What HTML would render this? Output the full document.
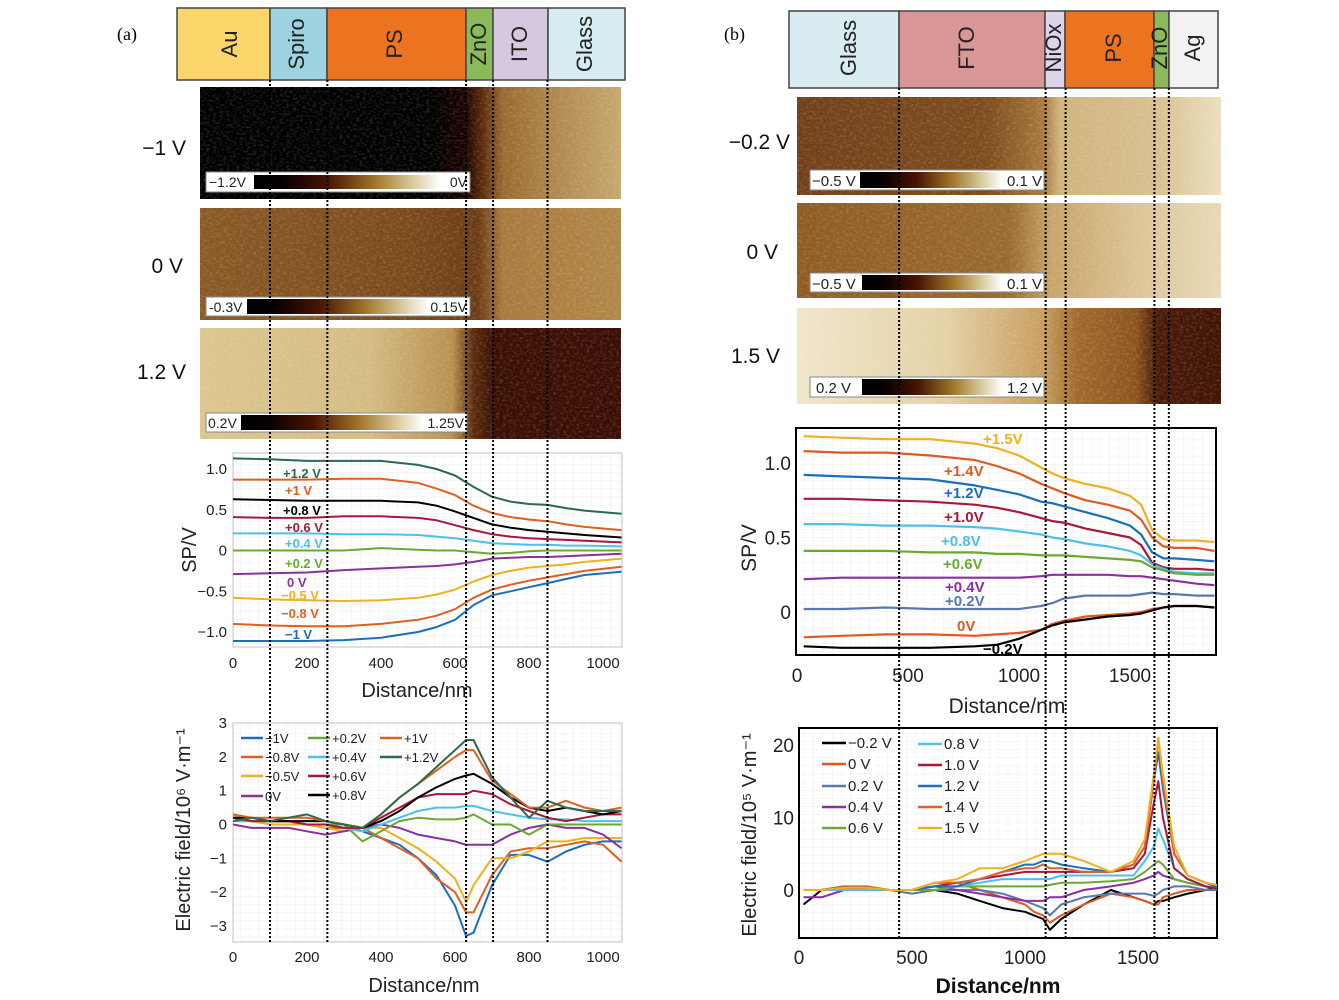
<!DOCTYPE html>
<html><head><meta charset="utf-8">
<style>
html,body{margin:0;padding:0;background:#fff;}
svg{display:block;font-family:"Liberation Sans",sans-serif;}
</style></head>
<body>
<svg id="fig" width="1339" height="1000" viewBox="0 0 1339 1000">
<defs>
<linearGradient id="cbar" x1="0" x2="1" y1="0" y2="0">
<stop offset="0" stop-color="#000"/><stop offset="0.15" stop-color="#050000"/><stop offset="0.4" stop-color="#4a1404"/><stop offset="0.65" stop-color="#a07628"/><stop offset="0.85" stop-color="#d8c89a"/><stop offset="1" stop-color="#fff"/>
</linearGradient>
<linearGradient id="imgA1" x1="0" x2="1"><stop offset="0" stop-color="#000"/><stop offset="0.55" stop-color="#000"/><stop offset="0.63" stop-color="#1a0400"/><stop offset="0.67" stop-color="#5a2a0a"/><stop offset="0.72" stop-color="#9a6a30"/><stop offset="0.85" stop-color="#b08a50"/><stop offset="1" stop-color="#c8a86e"/></linearGradient>
<linearGradient id="imgA2" x1="0" x2="1"><stop offset="0" stop-color="#8a5a26"/><stop offset="0.5" stop-color="#7a4a1c"/><stop offset="0.66" stop-color="#6a3c14"/><stop offset="0.72" stop-color="#a87a3e"/><stop offset="1" stop-color="#b08848"/></linearGradient>
<linearGradient id="imgA3" x1="0" x2="1"><stop offset="0" stop-color="#dcc690"/><stop offset="0.4" stop-color="#d4bc84"/><stop offset="0.6" stop-color="#b89050"/><stop offset="0.65" stop-color="#5a2a0e"/><stop offset="0.7" stop-color="#3a1004"/><stop offset="1" stop-color="#3a0e04"/></linearGradient>
<linearGradient id="imgB1" x1="0" x2="1"><stop offset="0" stop-color="#70401a"/><stop offset="0.45" stop-color="#7e4c1e"/><stop offset="0.58" stop-color="#a8783c"/><stop offset="0.62" stop-color="#d0b47e"/><stop offset="0.85" stop-color="#d8c090"/><stop offset="1" stop-color="#ece0c0"/></linearGradient>
<linearGradient id="imgB2" x1="0" x2="1"><stop offset="0" stop-color="#8e5c24"/><stop offset="0.5" stop-color="#9a6a2e"/><stop offset="0.6" stop-color="#c8a468"/><stop offset="0.8" stop-color="#dcc496"/><stop offset="1" stop-color="#e8dab8"/></linearGradient>
<linearGradient id="imgB3" x1="0" x2="1"><stop offset="0" stop-color="#f0e6cc"/><stop offset="0.35" stop-color="#e4d2a6"/><stop offset="0.58" stop-color="#c89e60"/><stop offset="0.66" stop-color="#a06a2c"/><stop offset="0.8" stop-color="#8a5420"/><stop offset="0.85" stop-color="#4a1a08"/><stop offset="1" stop-color="#3e1406"/></linearGradient>
<filter id="noise" x="0" y="0" width="100%" height="100%">
<feTurbulence type="fractalNoise" baseFrequency="0.3 0.45" numOctaves="2" seed="3"/>
<feColorMatrix type="matrix" values="0 0 0 0 1  0 0 0 0 0.9  0 0 0 0 0.7  1.4 0 0 0 -0.6"/>
</filter>
<pattern id="minor" width="9.25" height="8.15" patternUnits="userSpaceOnUse"><path d="M9.25 0V8.15H0" fill="none" stroke="#e6e6e6" stroke-width="0.7"/></pattern>
<clipPath id="clipA1"><rect x="233" y="453" width="389" height="194"/></clipPath>
<clipPath id="clipA2"><rect x="233" y="723" width="389" height="219"/></clipPath>
<clipPath id="clipB1"><rect x="796" y="428" width="420" height="227"/></clipPath>
<clipPath id="clipB2"><rect x="799" y="728" width="418" height="210"/></clipPath>
</defs>

<text x="117" y="40" font-family="Liberation Serif" font-size="18">(a)</text>
<text x="724" y="40" font-family="Liberation Serif" font-size="18">(b)</text>

<g stroke="#444" stroke-width="1.5">
<rect x="177" y="8" width="93" height="72" fill="#fcd66a"/>
<rect x="270" y="8" width="57" height="72" fill="#9dd2e0"/>
<rect x="327" y="8" width="139" height="72" fill="#ec7420"/>
<rect x="466" y="8" width="27" height="72" fill="#8bba5a"/>
<rect x="493" y="8" width="55" height="72" fill="#d6c8e0"/>
<rect x="548" y="8" width="77" height="72" fill="#d6ecf2"/>
</g>
<g font-size="22" fill="#222">
<text transform="translate(231,44) rotate(-90)" text-anchor="middle" dominant-baseline="middle">Au</text>
<text transform="translate(298,44) rotate(-90)" text-anchor="middle" dominant-baseline="middle">Spiro</text>
<text transform="translate(396,44) rotate(-90)" text-anchor="middle" dominant-baseline="middle">PS</text>
<text transform="translate(480,44) rotate(-90)" text-anchor="middle" dominant-baseline="middle">ZnO</text>
<text transform="translate(521,44) rotate(-90)" text-anchor="middle" dominant-baseline="middle">ITO</text>
<text transform="translate(586,44) rotate(-90)" text-anchor="middle" dominant-baseline="middle">Glass</text>
</g>

<g stroke="#444" stroke-width="1.5">
<rect x="789" y="11" width="110" height="77" fill="#d8ecf2"/>
<rect x="899" y="11" width="146" height="77" fill="#d99696"/>
<rect x="1045" y="11" width="20" height="77" fill="#dcd4e8"/>
<rect x="1065" y="11" width="89" height="77" fill="#ec7420"/>
<rect x="1154" y="11" width="15" height="77" fill="#8bba5a"/>
<rect x="1169" y="11" width="49" height="77" fill="#f2f2f2"/>
</g>
<g font-size="22" fill="#222">
<text transform="translate(850,48) rotate(-90)" text-anchor="middle" dominant-baseline="middle">Glass</text>
<text transform="translate(968,48) rotate(-90)" text-anchor="middle" dominant-baseline="middle">FTO</text>
<text transform="translate(1055,48) rotate(-90)" text-anchor="middle" dominant-baseline="middle">NiOx</text>
<text transform="translate(1115,48) rotate(-90)" text-anchor="middle" dominant-baseline="middle">PS</text>
<text transform="translate(1161,48) rotate(-90)" text-anchor="middle" dominant-baseline="middle">ZnO</text>
<text transform="translate(1194,48) rotate(-90)" text-anchor="middle" dominant-baseline="middle">Ag</text>
</g>

<rect x="200" y="87" width="421" height="112" fill="url(#imgA1)"/>
<rect x="200" y="208" width="421" height="112" fill="url(#imgA2)"/>
<rect x="200" y="328" width="421" height="111" fill="url(#imgA3)"/>
<rect x="797" y="97" width="424" height="98" fill="url(#imgB1)"/>
<rect x="797" y="203" width="424" height="95" fill="url(#imgB2)"/>
<rect x="797" y="308" width="424" height="96" fill="url(#imgB3)"/>
<g opacity="0.28">
<rect x="200" y="87" width="421" height="112" filter="url(#noise)"/>
<rect x="200" y="208" width="421" height="112" filter="url(#noise)"/>
<rect x="200" y="328" width="421" height="111" filter="url(#noise)"/>
<rect x="797" y="97" width="424" height="98" filter="url(#noise)"/>
<rect x="797" y="203" width="424" height="95" filter="url(#noise)"/>
<rect x="797" y="308" width="424" height="96" filter="url(#noise)"/>
</g>
<g font-size="21" fill="#111" text-anchor="end">
<text x="186" y="155">−1 V</text><text x="183" y="273">0 V</text><text x="186" y="379">1.2 V</text>
</g>
<g font-size="21" fill="#111" text-anchor="end">
<text x="790" y="149">−0.2 V</text><text x="778" y="259">0 V</text><text x="780" y="363">1.5 V</text>
</g>

<g font-size="14" fill="#222">
<rect x="206" y="172" width="264" height="20" fill="#fff" stroke="#888"/><rect x="254" y="175" width="186" height="14" fill="url(#cbar)"/>
<text x="209" y="187">−1.2V</text><text x="467" y="187" text-anchor="end">0V</text>
<rect x="206" y="297" width="264" height="19" fill="#fff" stroke="#888"/><rect x="247" y="299" width="182" height="15" fill="url(#cbar)"/>
<text x="209" y="312">-0.3V</text><text x="467" y="312" text-anchor="end">0.15V</text>
<rect x="206" y="413" width="261" height="19" fill="#fff" stroke="#888"/><rect x="241" y="415" width="182" height="15" fill="url(#cbar)"/>
<text x="208" y="428">0.2V</text><text x="464" y="428" text-anchor="end">1.25V</text>
<rect x="810" y="170" width="234" height="20" fill="#fff" stroke="#888"/><rect x="860" y="172" width="142" height="16" fill="url(#cbar)"/>
<text x="812" y="186" font-size="15">−0.5 V</text><text x="1042" y="186" text-anchor="end" font-size="15">0.1 V</text>
<rect x="810" y="273" width="234" height="19" fill="#fff" stroke="#888"/><rect x="862" y="275" width="140" height="15" fill="url(#cbar)"/>
<text x="812" y="289" font-size="15">−0.5 V</text><text x="1042" y="289" text-anchor="end" font-size="15">0.1 V</text>
<rect x="810" y="377" width="234" height="20" fill="#fff" stroke="#888"/><rect x="862" y="379" width="140" height="16" fill="url(#cbar)"/>
<text x="816" y="393" font-size="15">0.2 V</text><text x="1042" y="393" text-anchor="end" font-size="15">1.2 V</text>
</g>

<g id="plots"></g>
<g id="dotted"></g>
</svg>

<script>
// ---------- Panel (a) surface potential ----------
const aSpX = [0,100,200,300,400,500,550,600,650,700,750,800,850,900,950,1050];
const aSpNames = ["+1.2 V","+1 V","+0.8 V","+0.6 V","+0.4 V","+0.2 V","0 V","-0.5 V","-0.8 V","-1 V"];
const aSpP12 = [1.13,1.12,1.1,1.1,1.1,1.05,1.0,0.92,0.78,0.66,0.6,0.57,0.56,0.52,0.49,0.45];
const aSpP10 = [0.87,0.87,0.87,0.88,0.88,0.83,0.76,0.68,0.55,0.46,0.41,0.38,0.36,0.32,0.29,0.25];
const aSpP08 = [0.63,0.62,0.61,0.61,0.61,0.59,0.55,0.48,0.40,0.32,0.28,0.25,0.23,0.21,0.19,0.16];
const aSpP06 = [0.41,0.40,0.40,0.42,0.42,0.40,0.37,0.31,0.25,0.20,0.17,0.15,0.14,0.13,0.12,0.10];
const aSpP04 = [0.21,0.21,0.21,0.20,0.20,0.19,0.17,0.15,0.12,0.09,0.08,0.07,0.07,0.06,0.06,0.05];
const aSpP02 = [0,0,0,0,0.03,0.01,0,0,-0.02,-0.04,-0.03,-0.01,0,0,0,0];
const aSp0 = [-0.29,-0.28,-0.27,-0.24,-0.22,-0.20,-0.19,-0.17,-0.14,-0.10,-0.09,-0.08,-0.08,-0.07,-0.06,-0.04];
const aSpM05 = [-0.58,-0.60,-0.61,-0.62,-0.61,-0.58,-0.54,-0.48,-0.38,-0.30,-0.25,-0.21,-0.19,-0.17,-0.14,-0.10];
const aSpM08 = [-0.90,-0.92,-0.93,-0.93,-0.90,-0.85,-0.80,-0.72,-0.58,-0.48,-0.42,-0.37,-0.33,-0.29,-0.25,-0.20];
const aSpM10 = [-1.11,-1.11,-1.11,-1.10,-1.07,-1.00,-0.94,-0.85,-0.67,-0.55,-0.50,-0.45,-0.40,-0.35,-0.30,-0.26];
const aSpYTicks = [-1,-0.5,0,0.5,1];
const aSpYTickLabels = ["−1.0","−0.5","0","0.5","1.0"];
const aXTicks = [0,200,400,600,800,1000];

// ---------- Panel (a) electric field ----------
const aEX = [0,50,100,150,200,250,300,350,400,450,500,550,600,630,650,700,750,800,850,900,950,1000,1050];
const aENames = ["-1V","-0.8V","-0.5V","0V","+0.2V","+0.4V","+0.6V","+0.8V","+1V","+1.2V"];
const aEM10 = [0.3,0.1,0.1,0.1,0,-0.1,-0.1,-0.2,-0.4,-0.6,-1,-1.5,-2.4,-3.3,-3.2,-1.8,-0.9,-0.9,-1.1,-0.8,-0.6,-0.5,-0.5];
const aEM08 = [0.3,0.1,0.1,0.1,0,-0.1,-0.1,-0.1,-0.4,-0.7,-1,-1.6,-2,-2.6,-2.6,-1.5,-0.8,-0.7,-0.7,-0.6,-0.5,-0.6,-1.1];
const aEM05 = [0.3,0.1,0,0,0,-0.1,-0.2,-0.1,-0.1,-0.4,-0.7,-1.1,-1.6,-2.3,-1.8,-1,-1,-0.8,-0.5,-0.5,-0.4,-0.4,-0.4];
const aE0 = [0,-0.1,-0.1,-0.1,-0.2,-0.3,-0.2,-0.1,0,-0.1,-0.3,-0.4,-0.5,-0.6,-0.6,-0.6,-0.3,-0.1,0,-0.1,-0.1,-0.3,-0.7];
const aEP02 = [0.2,0.1,0.1,0.1,0,0,0,-0.5,-0.2,0.1,0.2,0.15,0.15,0.2,0.3,0,0,-0.3,0,0,0,0,0];
const aEP04 = [0.1,0.1,0.1,0.1,0,0,-0.1,-0.2,0,0.2,0.4,0.5,0.5,0.55,0.55,0.4,0.3,0.2,0.15,0.15,0.1,0.1,0.1];
const aEP06 = [0.2,0.1,0.1,0.1,0,0,-0.1,-0.1,0.2,0.5,0.8,0.9,0.9,0.9,1.0,0.9,0.6,0.4,0.2,0.1,0.2,0.3,0.3];
const aEP08 = [0.2,0.2,0.1,0.1,0.1,0.1,0,-0.1,0.1,0.4,0.8,1.1,1.35,1.45,1.5,1.2,0.8,0.5,0.4,0.5,0.4,0.3,0.4];
const aEP10 = [0.3,0.2,0.2,0.2,0.2,0.1,0,-0.1,0.3,0.8,1.2,1.6,2.0,2.2,2.2,1.3,0.9,0.5,0.5,0.7,0.5,0.4,0.5];
const aEP12 = [0.1,0.2,0.1,0.2,0.3,0.1,0,-0.1,0.3,0.8,1.2,1.7,2.2,2.5,2.5,1.4,0.8,0.2,0.7,0.5,0.4,0.4,0.4];
const aEYTicks = [-3,-2,-1,0,1,2,3];

// ---------- Panel (b) surface potential ----------
const bSpX = [30,200,400,600,800,900,1000,1100,1150,1200,1300,1400,1500,1550,1600,1650,1700,1800,1880];
const bSpNames = ["+1.5V","+1.4V","+1.2V","+1.0V","+0.8V","+0.6V","+0.4V","+0.2V","0V","-0.2V"];
const bSpP15 = [1.18,1.17,1.16,1.16,1.13,1.10,1.05,0.97,0.93,0.90,0.86,0.83,0.78,0.72,0.55,0.49,0.48,0.48,0.47];
const bSpP14 = [1.08,1.07,1.07,1.05,1.02,0.98,0.93,0.86,0.83,0.80,0.75,0.72,0.68,0.62,0.50,0.44,0.43,0.43,0.41];
const bSpP12 = [0.92,0.91,0.90,0.89,0.85,0.82,0.79,0.74,0.73,0.71,0.67,0.63,0.58,0.52,0.40,0.36,0.36,0.35,0.34];
const bSpP10 = [0.76,0.76,0.75,0.74,0.72,0.70,0.67,0.63,0.61,0.60,0.56,0.53,0.50,0.45,0.33,0.30,0.29,0.29,0.28];
const bSpP08 = [0.59,0.59,0.58,0.58,0.57,0.56,0.54,0.52,0.50,0.49,0.46,0.44,0.41,0.38,0.32,0.29,0.27,0.26,0.26];
const bSpP06 = [0.41,0.41,0.41,0.40,0.40,0.39,0.39,0.38,0.38,0.38,0.37,0.36,0.35,0.34,0.30,0.28,0.26,0.25,0.25];
const bSpP04 = [0.22,0.23,0.23,0.23,0.23,0.23,0.23,0.24,0.25,0.25,0.25,0.25,0.24,0.24,0.23,0.22,0.21,0.19,0.18];
const bSpP02 = [0.02,0.02,0.03,0.02,0.02,0.02,0.02,0.04,0.06,0.09,0.11,0.11,0.11,0.12,0.13,0.12,0.12,0.11,0.11];
const bSp0 = [-0.17,-0.16,-0.15,-0.15,-0.16,-0.15,-0.14,-0.12,-0.08,-0.06,-0.03,-0.02,-0.01,0,0.02,0.03,0.04,0.04,0.03];
const bSpM02 = [-0.23,-0.24,-0.24,-0.24,-0.23,-0.22,-0.18,-0.12,-0.09,-0.07,-0.05,-0.03,-0.02,-0.01,0.01,0.03,0.04,0.04,0.03];
const bSpYTicks = [0,0.5,1.0];
const bSpYTickLabels = ["0","0.5","1.0"];
const bXTicks = [0,500,1000,1500];

// ---------- Panel (b) electric field ----------
const bEX = [20,100,200,300,400,500,600,700,800,900,1000,1040,1080,1110,1160,1260,1380,1480,1530,1570,1590,1610,1660,1720,1800,1880];
const bENames = ["−0.2 V","0 V","0.2 V","0.4 V","0.6 V","0.8 V","1.0 V","1.2 V","1.4 V","1.5 V"];
const bEM02 = [-2,0,0.5,0,0,0,0,-0.5,-1.5,-2.5,-3,-3.5,-4,-5.5,-4,-2,0,-1,-1.5,-2,-1.5,-1.5,-1,-0.5,0,0.5];
const bE0 = [0,0,0.5,0.5,0,0,1,1,0,-1,-2,-3,-3.5,-4.5,-3.5,-2,-0.5,-1,-1.5,-2,-2,-1,-0.5,0,0,0];
const bEP02 = [0,0,0,0.3,0,-0.5,0,0,0,-0.5,-1.5,-2,-2.5,-3.5,-2,-1,-0.5,-0.5,-0.5,-0.8,-0.5,0,0.5,0.5,0,0];
const bEP04 = [-1,-1,0,0,0,0,0.5,0,-0.5,-1,-1.5,-1.5,-1.5,-1,-1,0,0.5,1,1.5,2,2.5,2,1.5,1,0.5,0];
const bEP06 = [0,0,0,0,0,0,0,0.5,0.5,0.5,0.5,0.5,0.5,0.7,1,1,1.2,1.5,2.5,3.5,4,3.5,1.5,1,0.5,0];
const bEP08 = [0,0,0,0,0,0,0.5,0.5,1,1.5,1.5,1.5,1.5,1.5,2,2,2,2,4,6,8.5,7,3,1.5,0.5,0];
const bEP10 = [0,0,0.3,0.3,0,0,0.5,1,1.5,2,2.5,2.5,2.5,2.5,2.5,2.5,2.5,3,5,12,15,10,3,1.5,0.5,0];
const bEP12 = [0,0,0.3,0.3,0,0,0.5,0.5,1.5,2.5,3.5,3.5,4,4,3.5,3,2.5,3.5,6,15,19,14,5,2,1,0];
const bEP14 = [0,0,0.3,0.3,0,0,1,1,1.5,2.5,3,3,3.5,3,3,2.5,2.5,3.5,6,15,21,15,5,2,1,0.5];
const bEP15 = [0,0,0.3,0.3,0,0,1,1.5,3,3,4,4.5,5,5,5,4,2.5,4,7,16,21,16,6,2,1,0.5];
const bEYTicks = [0,10,20];

// ---------- layer boundaries (nm) ----------
const aBoundaries = [100,255,630,703,850];
const bBoundaries = [460,1120,1210,1610,1675];

const NS = "http://www.w3.org/2000/svg";
const plots = document.getElementById('plots');
const dotted = document.getElementById('dotted');

function mk(tag, attrs, parent){
  const e = document.createElementNS(NS, tag);
  for (const k in attrs) e.setAttribute(k, attrs[k]);
  (parent||plots).appendChild(e);
  return e;
}
function txt(x,y,s,size,anchor,parent,fill,weight){
  const t = mk('text',{x:x,y:y,'font-size':size,'text-anchor':anchor||'middle',fill:fill||'#222','font-weight':weight||'normal'},parent);
  t.textContent = s;
  return t;
}
function axes(name, x0,y0,w,h, frame){
  const g = mk('g',{});
  
  
  mk('rect',{x:x0,y:y0,width:w,height:h,fill:'url(#minor)'},g);
  mk('rect',{x:x0,y:y0,width:w,height:h,fill:'none',stroke:frame,'stroke-width':frame=='#000'?2:1.2},g);
  return g;
}
function series(g, xs, ys, sx, sy, color, width, clip, name){
  let d = '';
  for (let i=0;i<xs.length;i++) d += (i?'L':'M') + sx(xs[i]).toFixed(1) + ' ' + sy(ys[i]).toFixed(1);
  const p = mk('path',{d:d,fill:'none',stroke:color,'stroke-width':width,'stroke-linejoin':'round','clip-path':'url(#'+clip+')'},g);
  
  
}

// ===== (a) SP =====
const sxA = v => 233 + v*0.37;
const syA1 = v => 550.5 - v*81.5;
const gA1 = axes('sp-chart-a', 233,453,389,194,'#ccc');
aSpYTicks.forEach((v,i)=>{ txt(227, syA1(v)+5, aSpYTickLabels[i], 15, 'end', gA1); });
aXTicks.forEach(v=>{ txt(sxA(v), 668, String(v), 15, 'middle', gA1); });
const aSpSeries = [aSpP12,aSpP10,aSpP08,aSpP06,aSpP04,aSpP02,aSp0,aSpM05,aSpM08,aSpM10];
const aSpColors = ['#2e6b4a','#e06020','#000','#a81838','#4ec0ee','#6aaa30','#8a30a0','#f0b020','#e06020','#1a70c0'];
const aSpLabelPos = [[283,478],[285,495],[283,515],[285,532],[285,548],[285,568],[287,587],[281,600],[281,618],[285,639]];
aSpSeries.forEach((ys,i)=>{ series(gA1, aSpX, ys, sxA, syA1, aSpColors[i], 2, 'clipA1', 'sp-a-line-'+i); });
aSpNames.forEach((n,i)=>{ txt(aSpLabelPos[i][0], aSpLabelPos[i][1], n.replace('-','−'), 13, 'start', gA1, aSpColors[i], 'bold'); });
const ta1 = txt(0,0,'SP/V',20,'middle',gA1,'#222'); ta1.setAttribute('transform','translate(196,550) rotate(-90)');
txt(417,697,'Distance/nm',20,'middle',gA1);

// ===== (a) E =====
const syA2 = v => 824.5 - v*33.8;
const gA2 = axes('efield-chart-a', 233,723,389,219,'#ccc');
aEYTicks.forEach(v=>{ txt(227, syA2(v)+5, v<0?'−'+(-v):String(v), 15, 'end', gA2); });
aXTicks.forEach(v=>{ txt(sxA(v), 962, String(v), 15, 'middle', gA2); });
const aESeries = [aEM10,aEM08,aEM05,aE0,aEP02,aEP04,aEP06,aEP08,aEP10,aEP12];
const aEColors = ['#1a70c0','#e06020','#f0b020','#8a30a0','#6aaa30','#4ec0ee','#a81838','#000','#e06020','#2e6b4a'];
aESeries.forEach((ys,i)=>{ series(gA2, aEX, ys, sxA, syA2, aEColors[i], 2, 'clipA2', 'efield-a-line-'+i); });
const aLegPos = [[241,738],[241,757],[241,776],[241,796],[308,738],[308,757],[308,776],[308,795],[380,738],[380,757]];
aENames.forEach((n,i)=>{
  const lg = mk('g',{},gA2);
  
  
  mk('line',{x1:aLegPos[i][0],x2:aLegPos[i][0]+22,y1:aLegPos[i][1],y2:aLegPos[i][1],stroke:aEColors[i],'stroke-width':2.5},lg);
  txt(aLegPos[i][0]+24, aLegPos[i][1]+5, n.replace('-','−'), 13, 'start', lg);
});
const ta2 = txt(0,0,'Electric field/10⁶ V·m⁻¹',20,'middle',gA2); ta2.setAttribute('transform','translate(190,830) rotate(-90)');
txt(424,992,'Distance/nm',20,'middle',gA2);

// ===== (b) SP =====
const sxB1 = v => 797 + v*0.222;
const syB1 = v => 612 - v*149;
const gB1 = axes('sp-chart-b', 796,428,420,227,'#000');
bSpYTicks.forEach((v,i)=>{ txt(791, syB1(v)+7, bSpYTickLabels[i], 19, 'end', gB1); });
bXTicks.forEach(v=>{ txt(sxB1(v), 682, String(v), 19, 'middle', gB1); });
const bSpSeries = [bSpP15,bSpP14,bSpP12,bSpP10,bSpP08,bSpP06,bSpP04,bSpP02,bSp0,bSpM02];
const bSpColors = ['#f0b020','#e05a20','#1a70c0','#a81838','#4ec0ee','#6aaa30','#8a30a0','#5a78b0','#e05a20','#000'];
const bSpLabelPos = [[983,444],[944,476],[944,498],[944,522],[941,546],[943,569],[945,592],[945,606],[957,631],[983,654]];
bSpSeries.forEach((ys,i)=>{ series(gB1, bSpX, ys, sxB1, syB1, bSpColors[i], 2.2, 'clipB1', 'sp-b-line-'+i); });
bSpNames.forEach((n,i)=>{ txt(bSpLabelPos[i][0], bSpLabelPos[i][1], n.replace('-','−'), 15, 'start', gB1, bSpColors[i], 'bold'); });
const tb1 = txt(0,0,'SP/V',21,'middle',gB1); tb1.setAttribute('transform','translate(756,548) rotate(-90)');
txt(1007,713,'Distance/nm',21,'middle',gB1);

// ===== (b) E =====
const sxB2 = v => 799 + v*0.226;
const syB2 = v => 890 - v*7.25;
const gB2 = axes('efield-chart-b', 799,728,418,210,'#000');
bEYTicks.forEach(v=>{ txt(794, syB2(v)+7, String(v), 19, 'end', gB2); });
bXTicks.forEach(v=>{ txt(sxB2(v), 964, String(v), 19, 'middle', gB2); });
const bESeries = [bEM02,bE0,bEP02,bEP04,bEP06,bEP08,bEP10,bEP12,bEP14,bEP15];
const bEColors = ['#000','#e05a20','#5a78b0','#8a30a0','#6aaa30','#4ec0ee','#a81838','#1a70c0','#e06030','#f0b020'];
bESeries.forEach((ys,i)=>{ series(gB2, bEX, ys, sxB2, syB2, bEColors[i], 2, 'clipB2', 'efield-b-line-'+i); });
const bLegPos = [[822,743],[822,764],[822,786],[822,807],[822,828],[918,744],[918,765],[918,786],[918,807],[918,828]];
bENames.forEach((n,i)=>{
  const lg = mk('g',{},gB2);
  
  
  mk('line',{x1:bLegPos[i][0],x2:bLegPos[i][0]+24,y1:bLegPos[i][1],y2:bLegPos[i][1],stroke:bEColors[i],'stroke-width':2.5},lg);
  txt(bLegPos[i][0]+26, bLegPos[i][1]+5, n, 15, 'start', lg);
});
const tb2 = txt(0,0,'Electric field/10⁵ V·m⁻¹',20,'middle',gB2); tb2.setAttribute('transform','translate(756,835) rotate(-90)');
txt(998,993,'Distance/nm',21,'middle',gB2,'#111','bold');

// ===== dotted boundary lines =====
aBoundaries.forEach((v,i)=>{
  const l = mk('line',{x1:sxA(v),x2:sxA(v),y1:80,y2:942,stroke:'#000','stroke-width':2,'stroke-dasharray':'2,2'},dotted);
  
  
});
bBoundaries.forEach((v,i)=>{
  const l = mk('line',{x1:sxB1(v),x2:sxB1(v),y1:88,y2:938,stroke:'#000','stroke-width':2,'stroke-dasharray':'2,2'},dotted);
  
  
});
</script>
</body></html>
